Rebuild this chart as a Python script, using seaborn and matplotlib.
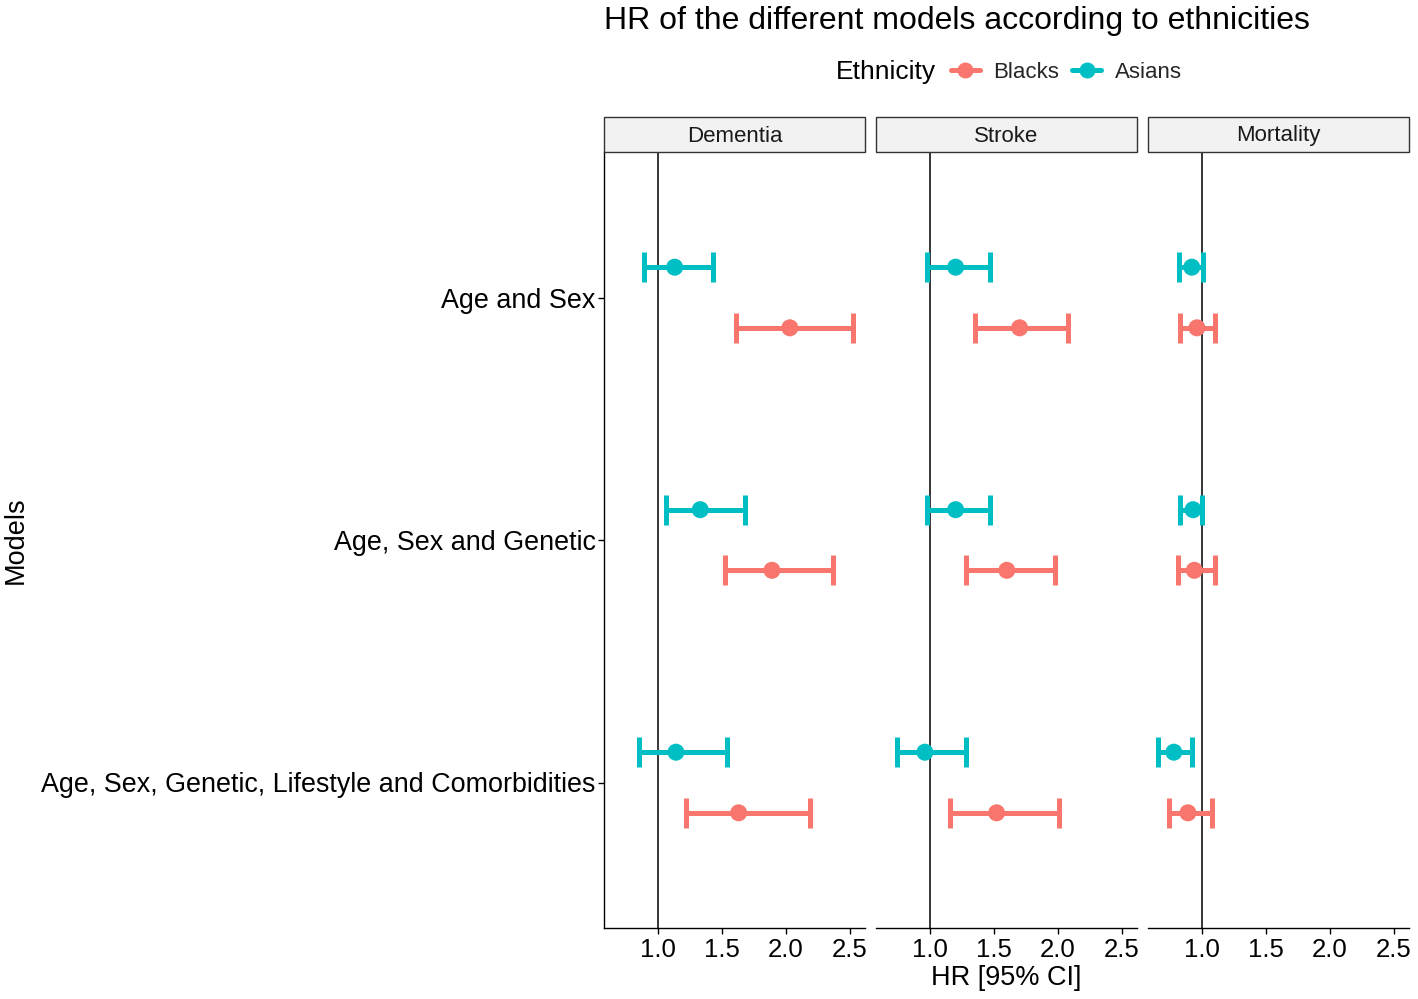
import numpy as np
import pandas as pd
import seaborn as sns
import matplotlib.pyplot as plt
from matplotlib.lines import Line2D

# Values (HR and 95% CI)
outcomes = ["Dementia", "Stroke", "Mortality"]
models = ["Age and Sex", "Age, Sex and Genetic",
          "Age, Sex, Genetic, Lifestyle and Comorbidities"]
ethnicities = ["Blacks", "Asians"]

# order per outcome: models x ethnicity (Blacks, Asians)
hr_dementia = [2.03, 1.13, 1.89, 1.33, 1.63, 1.14]
lo_dementia = [1.61, 0.89, 1.52, 1.06, 1.22, 0.85]
hi_dementia = [2.52, 1.43, 2.37, 1.68, 2.19, 1.54]

hr_stroke = [1.70, 1.20, 1.60, 1.20, 1.52, 0.96]
lo_stroke = [1.35, 0.98, 1.28, 0.98, 1.16, 0.74]
hi_stroke = [2.08, 1.47, 1.98, 1.47, 2.01, 1.28]

hr_mortality = [0.96, 0.92, 0.94, 0.93, 0.89, 0.78]
lo_mortality = [0.83, 0.82, 0.81, 0.83, 0.74, 0.66]
hi_mortality = [1.10, 1.01, 1.10, 1.00, 1.08, 0.92]

palette = {"Blacks": "#F8766D", "Asians": "#00BFC4"}

rows = []
for outcome, hr, lo, hi in zip(outcomes,
                               [hr_dementia, hr_stroke, hr_mortality],
                               [lo_dementia, lo_stroke, lo_mortality],
                               [hi_dementia, hi_stroke, hi_mortality]):
    k = 0
    for m in models:
        for e in ethnicities:
            rows.append({"outcome": outcome, "model": m, "ethnicity": e,
                         "hr": hr[k], "lo": lo[k], "hi": hi[k]})
            k += 1
data = pd.DataFrame(rows)

# discrete y positions, top model first, dodged by ethnicity
ypos = {m: len(models) - i for i, m in enumerate(models)}
dodge = {"Blacks": -0.125, "Asians": 0.125}
data["y"] = data["model"].map(ypos) + data["ethnicity"].map(dodge)

sns.set_theme(style="white")
plt.rcParams["font.family"] = ["Liberation Sans", "DejaVu Sans"]

W, H = 1418, 999
fig = plt.figure(figsize=(W / 100, H / 100), dpi=100)

panel_left = [604, 876, 1148]
panel_w = 261
top, bottom = 152, 928

axes = []
for i, outcome in enumerate(outcomes):
    ax = fig.add_axes([panel_left[i] / W, 1 - bottom / H,
                       panel_w / W, (bottom - top) / H])
    axes.append(ax)
    sub = data[data["outcome"] == outcome]
    ax.axvline(1.0, color="black", lw=1.1, zorder=1)
    for e in ethnicities:
        s = sub[sub["ethnicity"] == e]
        ax.errorbar(s["hr"], s["y"],
                    xerr=[s["hr"] - s["lo"], s["hi"] - s["hr"]],
                    fmt="none", ecolor=palette[e], elinewidth=3.6,
                    capsize=10.5, capthick=3.6, zorder=2)
    sns.scatterplot(data=sub, x="hr", y="y", hue="ethnicity",
                    palette=palette, s=150, edgecolor="none",
                    legend=False, ax=ax, zorder=3)
    ax.set_xlim(0.578, 2.617)
    ax.set_ylim(0.4, 3.6)
    ax.set_xticks([1.0, 1.5, 2.0, 2.5])
    ax.set_xticklabels(["1.0", "1.5", "2.0", "2.5"])
    ax.set_xlabel("")
    ax.set_ylabel("")
    for side in ["top", "right"]:
        ax.spines[side].set_visible(False)
    ax.spines["bottom"].set_color("black")
    ax.spines["bottom"].set_linewidth(1.0)
    ax.tick_params(axis="x", length=4, width=1, color="black",
                   labelsize=18.5, labelcolor="black", pad=3, bottom=True)
    if i == 0:
        ax.spines["left"].set_color("black")
        ax.spines["left"].set_linewidth(1.0)
        ax.set_yticks([ypos[m] for m in models])
        ax.set_yticklabels(models)
        ax.tick_params(axis="y", length=4, width=1, color="black",
                       labelsize=19.4, labelcolor="black", pad=2, left=True)
    else:
        ax.spines["left"].set_visible(False)
        ax.set_yticks([])

    # strip above each panel
    fig.patches.append(plt.Rectangle((panel_left[i] / W, 1 - 152 / H),
                                     panel_w / W, 35 / H,
                                     transform=fig.transFigure,
                                     facecolor="#F2F2F2", edgecolor="#333333",
                                     linewidth=1.0))
    fig.text((panel_left[i] + panel_w / 2) / W, 1 - 136 / H, outcome,
             ha="center", va="center", fontsize=16, color="#1A1A1A")

fig.text(604 / W, 1 - 21 / H, "HR of the different models according to ethnicities",
         ha="left", va="center", fontsize=23, color="black")
fig.text(1006 / W, 1 - 978 / H, "HR [95% CI]", ha="center", va="center",
         fontsize=19.5, color="black")
fig.text(16 / W, 1 - 540 / H, "Models", ha="center", va="center",
         rotation=90, fontsize=19.5, color="black")

# legend
fig.text(836 / W, 1 - 72 / H, "Ethnicity", ha="left", va="center",
         fontsize=19, color="black")
handles = [Line2D([0], [0], color=palette[e], lw=3.6, marker="o",
                  markersize=11.5, markeredgewidth=0) for e in ethnicities]
fig.legend(handles, ethnicities, loc="center left",
           bbox_to_anchor=(951 / W, 1 - 72 / H), ncol=2, frameon=False,
           fontsize=16, handlelength=1.3, handletextpad=0.6,
           columnspacing=0.6, borderaxespad=0, borderpad=0)

fig.savefig("out.png", dpi=100)
